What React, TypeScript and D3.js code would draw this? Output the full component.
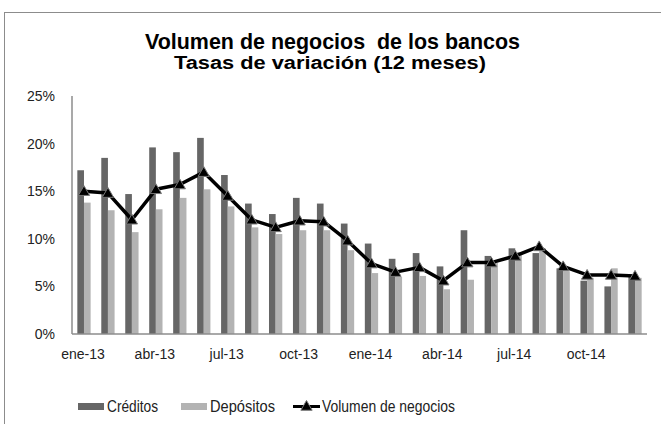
import React from "react";
import * as d3 from "d3";

const months = [
  "ene-13", "feb-13", "mar-13", "abr-13", "may-13", "jun-13",
  "jul-13", "ago-13", "sep-13", "oct-13", "nov-13", "dic-13",
  "ene-14", "feb-14", "mar-14", "abr-14", "may-14", "jun-14",
  "jul-14", "ago-14", "sep-14", "oct-14", "nov-14", "dic-14",
];
const creditos = [17.2, 18.5, 14.7, 19.6, 19.1, 20.6, 16.7, 13.7, 12.6, 14.3, 13.7, 11.6, 9.5, 7.9, 8.5, 7.1, 10.9, 8.2, 9.0, 8.5, 6.9, 5.6, 5.0, 6.0];
const depositos = [13.8, 13.0, 10.7, 13.1, 14.3, 15.2, 13.4, 11.2, 10.5, 10.9, 10.9, 8.8, 6.4, 6.0, 6.1, 4.7, 5.7, 7.5, 8.6, 9.0, 6.6, 5.9, 6.9, 5.9];
const volumen = [15.0, 14.8, 12.0, 15.2, 15.7, 17.0, 14.5, 12.0, 11.2, 11.9, 11.8, 9.8, 7.4, 6.5, 7.0, 5.6, 7.5, 7.5, 8.2, 9.2, 7.1, 6.2, 6.2, 6.1];
const yTicks = [0, 5, 10, 15, 20, 25];
const xLabelEvery = 3;

const W = 661;
const H = 424;
const FONT = "'Liberation Sans', Arial, sans-serif";
const DARK = "#666666";
const LIGHT = "#b3b3b3";
const AXIS = "#8c8c8c";

export default function App() {
  const left = 72, right = 647, top = 96, bottom = 334;
  const x = d3.scaleBand<string>().domain(months).range([left, right]).paddingInner(0.445).paddingOuter(0.2225);
  const sub = d3.scaleBand<string>().domain(["c", "d"]).range([0, x.bandwidth()]);
  const y = d3.scaleLinear().domain([0, 25]).range([bottom, top]);
  const cx = (m: string) => (x(m) as number) + x.bandwidth() / 2;
  const line = d3.line<number>().x((_, i) => cx(months[i])).y((v) => y(v));
  const tri = d3.symbol().type(d3.symbolTriangle).size(55)() as string;

  return (
    <svg width={W} height={H} style={{ position: "absolute", left: 0, top: 0, background: "#fff" }}>
      <rect x={4.5} y={12.5} width={700} height={500} fill="#fff" stroke={AXIS} strokeWidth={1} />
      <text x={145} y={49} textLength={375} lengthAdjust="spacingAndGlyphs" fontFamily={FONT} fontWeight="bold" fontSize={21.5} style={{ whiteSpace: "pre" }}>
        {"Volumen de negocios  de los bancos"}
      </text>
      <text x={174} y={69} textLength={312} lengthAdjust="spacingAndGlyphs" fontFamily={FONT} fontWeight="bold" fontSize={17.5}>
        Tasas de variación (12 meses)
      </text>
      {yTicks.map((t) => (
        <text key={t} x={55} y={y(t)} dy="0.35em" textAnchor="end" fontFamily={FONT} fontSize={14} fill="#222">
          {t}%
        </text>
      ))}
      {months.map((m, i) => (
        <g key={m}>
          <rect x={(x(m) as number) + (sub("c") as number)} y={y(creditos[i])} width={sub.bandwidth()} height={y(0) - y(creditos[i])} fill={DARK} />
          <rect x={(x(m) as number) + (sub("d") as number)} y={y(depositos[i])} width={sub.bandwidth()} height={y(0) - y(depositos[i])} fill={LIGHT} />
        </g>
      ))}
      <line x1={left} x2={left} y1={top} y2={bottom} stroke={AXIS} strokeWidth={1.5} />
      <line x1={left} x2={right} y1={bottom} y2={bottom} stroke={AXIS} strokeWidth={1.5} />
      {months.map((m, i) =>
        i % xLabelEvery === 0 ? (
          <text key={m} x={cx(m) - 1} y={359} textAnchor="middle" fontFamily={FONT} fontSize={14} fill="#222">
            {m}
          </text>
        ) : null
      )}
      <path d={line(volumen) as string} fill="none" stroke="#000" strokeWidth={3.5} strokeLinejoin="round" />
      {volumen.map((v, i) => (
        <path key={i} d={tri} transform={`translate(${cx(months[i])},${y(v) + 1})`} fill="#000" stroke="#777" strokeWidth={1} />
      ))}
      <g fontFamily={FONT} fontSize={16} fill="#222">
        <rect x={78} y={403} width={26} height={7} fill={DARK} />
        <text x={107} y={412} textLength={51} lengthAdjust="spacingAndGlyphs">Créditos</text>
        <rect x={181} y={403} width={26} height={7} fill={LIGHT} />
        <text x={210} y={412} textLength={65} lengthAdjust="spacingAndGlyphs">Depósitos</text>
        <line x1={293} x2={320} y1={406.5} y2={406.5} stroke="#000" strokeWidth={3} />
        <path d={tri} transform="translate(306.5,407)" fill="#000" stroke="#777" strokeWidth={1} />
        <text x={322} y={412} textLength={133} lengthAdjust="spacingAndGlyphs">Volumen de negocios</text>
      </g>
    </svg>
  );
}
